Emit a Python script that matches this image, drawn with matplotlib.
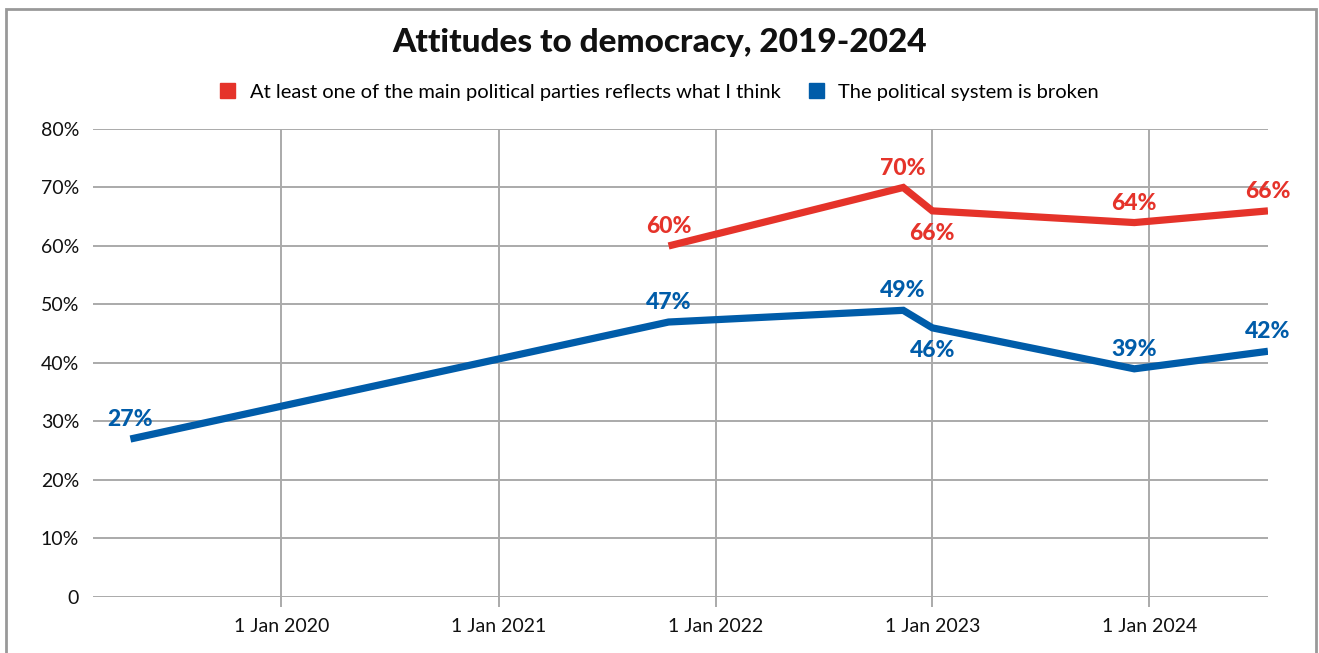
import matplotlib
matplotlib.use("Agg")
import matplotlib.pyplot as plt
import matplotlib.dates as mdates
from matplotlib.patches import Patch, Rectangle
import pandas as pd

plt.rcParams['font.family'] = ['Lato', 'DejaVu Sans']

RED = '#e5332a'
BLUE = '#005ca9'
GRID = '#aaaaaa'

# survey waves
blue_dates = ['2019-04-22', '2021-10-14', '2022-11-13', '2023-01-01', '2023-12-07', '2024-07-19']
blue_vals = [27, 47, 49, 46, 39, 42]
blue_pos = ['above', 'above', 'above', 'below', 'above', 'above']

red_dates = ['2021-10-14', '2022-11-13', '2023-01-01', '2023-12-07', '2024-07-19']
red_vals = [60, 70, 66, 64, 66]
red_pos = ['above', 'above', 'below', 'above', 'above']

red_name = 'At least one of the main political parties reflects what I think'
blue_name = 'The political system is broken'
tick_dates = ['2020-01-01', '2021-01-01', '2022-01-01', '2023-01-01', '2024-01-01']

fig = plt.figure(figsize=(13.19, 6.53), dpi=100)
ax = fig.add_axes([0.0705, 0.0858, 0.8908, 0.7167])

def draw(dates, vals, pos, color):
    x = pd.to_datetime(dates)
    ax.plot(x, vals, color=color, lw=5.2, solid_joinstyle='miter',
            solid_capstyle='butt', zorder=3)
    for d, v, p in zip(x, vals, pos):
        dy = 14 if p == 'above' else -16
        ax.annotate(f'{v}%', (d, v), xytext=(0, dy), textcoords='offset points',
                    ha='center', va='center', color=color, fontsize=16.5,
                    fontweight=900, zorder=4)

draw(red_dates, red_vals, red_pos, RED)
draw(blue_dates, blue_vals, blue_pos, BLUE)

ax.set_ylim(0, 80)
ax.set_yticks(range(0, 81, 10))
ax.set_yticklabels(['0'] + [f'{v}%' for v in range(10, 81, 10)])
ax.set_xlim(pd.Timestamp('2019-02-18'), pd.Timestamp('2024-07-19'))
ax.set_xticks(pd.to_datetime(tick_dates))
ax.xaxis.set_major_formatter(mdates.DateFormatter('1 Jan %Y'))

ax.grid(True, color=GRID, lw=1.4)
ax.set_axisbelow(True)
for s in ax.spines.values():
    s.set_visible(False)
ax.tick_params(axis='y', length=0, pad=10, labelsize=14, labelcolor='#111111')
ax.tick_params(axis='x', length=7, width=1.4, color=GRID, pad=8,
               labelsize=14, labelcolor='#111111')

fig.text(0.5, 0.935, 'Attitudes to democracy, 2019-2024', ha='center', va='center',
         fontsize=24, fontweight=900, color='#111111')
handles = [Patch(color=RED, label=red_name), Patch(color=BLUE, label=blue_name)]
fig.legend(handles=handles, loc='center', bbox_to_anchor=(0.5, 0.859), ncol=2,
           frameon=False, fontsize=14.5, handlelength=0.75, handleheight=0.75,
           handletextpad=0.7, columnspacing=1.4)

# outer frame
fig.patches.append(Rectangle((6 / 1319, -0.05), 1310 / 1319, 1 - 9 / 653 + 0.05,
                             transform=fig.transFigure, fill=False,
                             edgecolor='#999999', lw=2))

fig.savefig('out.png', dpi=100)
